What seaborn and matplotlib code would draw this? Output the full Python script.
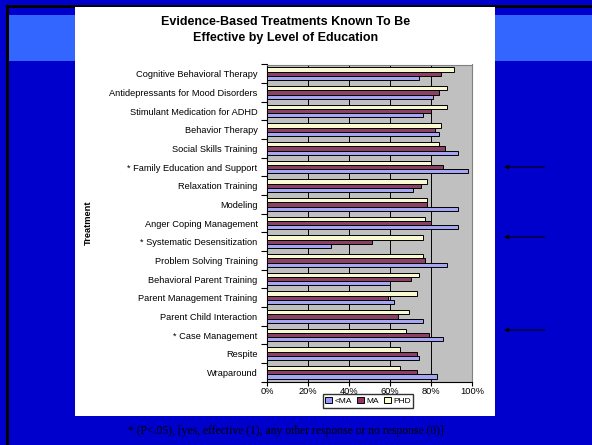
import matplotlib
matplotlib.use("Agg")
import matplotlib.pyplot as plt
from matplotlib.patches import Rectangle, Patch
from matplotlib.ticker import PercentFormatter
import seaborn as sns
import pandas as pd

# data (% rating each treatment as effective)
treatments = [
    "Cognitive Behavioral Therapy",
    "Antidepressants for Mood Disorders",
    "Stimulant Medication for ADHD",
    "Behavior Therapy",
    "Social Skills Training",
    "* Family Education and Support",
    "Relaxation Training",
    "Modeling",
    "Anger Coping Management",
    "* Systematic Desensitization",
    "Problem Solving Training",
    "Behavioral Parent Training",
    "Parent Management Training",
    "Parent Child Interaction",
    "* Case Management",
    "Respite",
    "Wraparound",
]
less_ma = [74, 81, 76, 84, 93, 98, 71, 93, 93, 31, 88, 60, 62, 76, 86, 74, 83]
ma = [85, 84, 80, 82, 87, 86, 75, 78, 80, 51, 77, 70, 59, 64, 79, 73, 73]
phd = [91, 88, 88, 85, 84, 80, 78, 78, 77, 76, 76, 74, 73, 69, 68, 65, 65]

levels = ["<MA", "MA", "PHD"]
colors = {"<MA": "#9999FF", "MA": "#993366", "PHD": "#FFFFCC"}

df = pd.DataFrame({
    "Treatment": treatments * 3,
    "Level": ["<MA"] * 17 + ["MA"] * 17 + ["PHD"] * 17,
    "Value": less_ma + ma + phd,
})

W, H = 592, 445
fig = plt.figure(figsize=(W / 100, H / 100), dpi=100, facecolor="#0000CC")

# slide background
bg = fig.add_axes([0, 0, 1, 1], zorder=-1)
bg.set_xlim(0, W)
bg.set_ylim(H, 0)
bg.axis("off")
bg.add_patch(Rectangle((8, 15), W - 8, 46, color="#3366FF", lw=0))
bg.add_patch(Rectangle((6, 5), W - 6, 2.5, color="black", lw=0))
bg.add_patch(Rectangle((6, 5), 2.5, H - 5, color="black", lw=0))
bg.add_patch(Rectangle((75, 7), 420, 409, color="white", lw=0))
for yy in [167, 237, 330]:
    bg.annotate("", xy=(504, yy), xytext=(545, yy),
                arrowprops=dict(arrowstyle="-|>", color="black", lw=0.8,
                                mutation_scale=6, shrinkA=0, shrinkB=0))

ax = fig.add_axes([267.3 / W, 1 - 381.7 / H, 204.7 / W, 317.2 / H])
sns.barplot(data=df, x="Value", y="Treatment", hue="Level",
            hue_order=["PHD", "MA", "<MA"], palette=colors,
            orient="h", width=0.68, edgecolor="black", linewidth=0.7,
            legend=False, ax=ax, zorder=3)

ax.set_facecolor("#C0C0C0")
ax.set_xlim(0, 100)
ax.set_xticks([0, 20, 40, 60, 80, 100])
ax.xaxis.set_major_formatter(PercentFormatter(decimals=0))
ax.grid(axis="x", color="black", lw=0.7, zorder=0)
ax.set_axisbelow(True)
for s in ["top", "right"]:
    ax.spines[s].set_color("#808080")
    ax.spines[s].set_linewidth(0.8)
for s in ["left", "bottom"]:
    ax.spines[s].set_color("black")
    ax.spines[s].set_linewidth(0.8)

ax.set_yticks([i + 0.5 for i in range(-1, 17)], minor=True)
ax.tick_params(axis="y", which="major", length=0, pad=7)
ax.tick_params(axis="y", which="minor", length=4, width=0.8, direction="out")
ax.tick_params(axis="x", length=3, width=0.8, pad=1)
for lab in ax.get_yticklabels() + ax.get_xticklabels():
    lab.set_fontsize(6.7)
    lab.set_fontfamily("Liberation Sans")

ax.set_xlabel("")
ax.set_ylabel("Treatment", fontsize=6.7, fontweight="bold", family="Liberation Sans")
ax.yaxis.set_label_coords(-0.851, 0.5)

fig.text(286 / W, 1 - 30 / H,
         "Evidence-Based Treatments Known To Be\nEffective by Level of Education",
         ha="center", va="center", fontsize=9, fontweight="bold",
         family="Liberation Sans", linespacing=1.35)

handles = [Patch(facecolor=colors[l], edgecolor="black", lw=0.7) for l in levels]
fig.legend(handles, levels, loc="center", bbox_to_anchor=(368 / W, 1 - 401 / H),
           ncol=3, frameon=True, fancybox=False, edgecolor="black",
           handlelength=0.8, handleheight=0.8, handletextpad=0.3,
           columnspacing=0.6, borderpad=0.3, borderaxespad=0,
           prop={"family": "Liberation Sans", "size": 6})

fig.text(286 / W, 1 - 431 / H,
         "* (P<.05), [yes, effective (1), any other response or no response (0)]",
         ha="center", va="center", fontsize=8.4, family="Liberation Serif", color="black")

fig.savefig("out.png", dpi=100, facecolor=fig.get_facecolor())
